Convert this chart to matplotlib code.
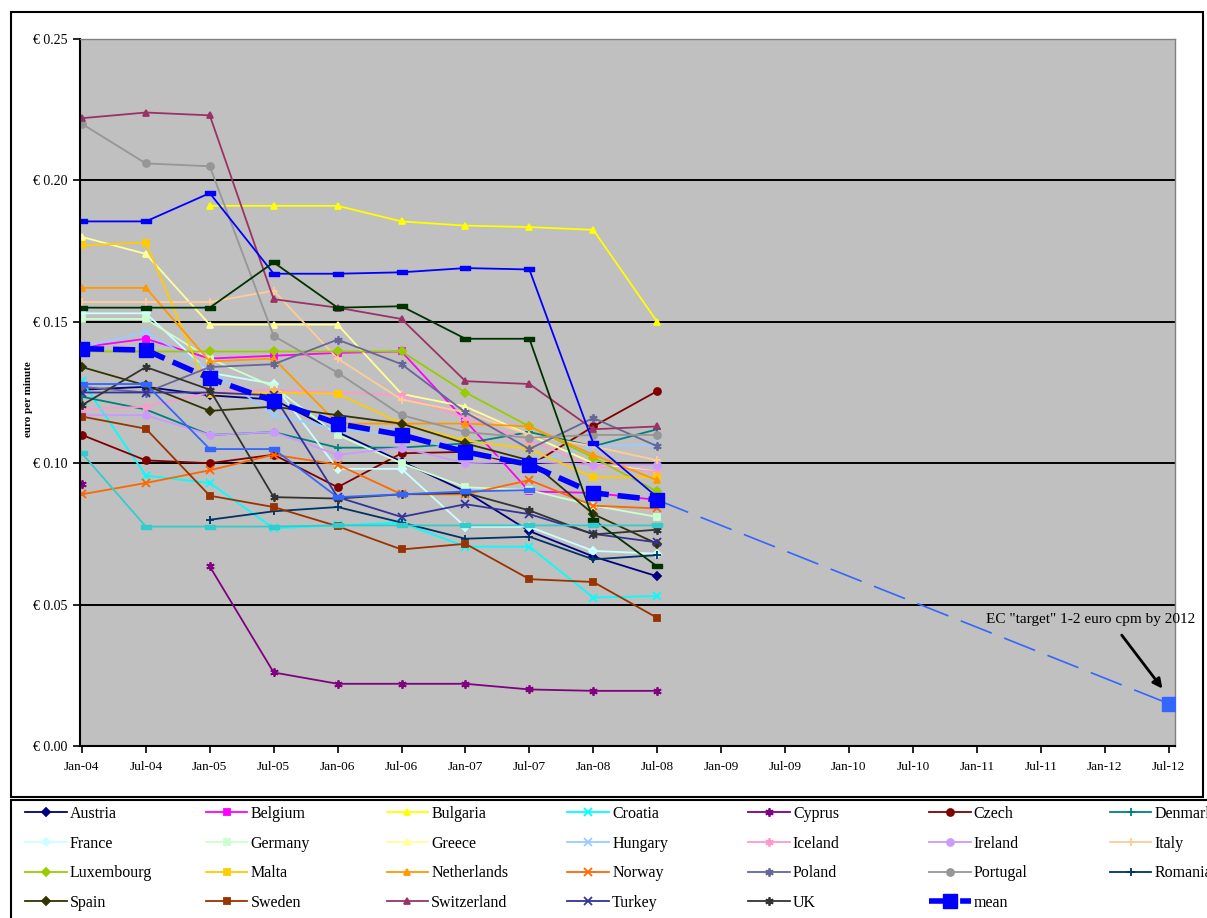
import numpy as np
import matplotlib.pyplot as plt
from matplotlib.patches import Rectangle

nan = np.nan

periods = ["Jan-04", "Jul-04", "Jan-05", "Jul-05", "Jan-06", "Jul-06",
           "Jan-07", "Jul-07", "Jan-08", "Jul-08", "Jan-09", "Jul-09",
           "Jan-10", "Jul-10", "Jan-11", "Jul-11", "Jan-12", "Jul-12"]

# observed half-years Jan-04 .. Jul-08 (euro per minute)
austria = [0.126, 0.127, 0.124, 0.1225, 0.111, 0.1006, 0.090, 0.076, 0.067, 0.060]
belgium = [0.141, 0.144, 0.137, 0.138, 0.139, 0.1395, 0.115, 0.090, 0.0895, 0.087]
bulgaria = [nan, nan, 0.191, 0.191, 0.191, 0.1855, 0.184, 0.1835, 0.1825, 0.150]
croatia = [0.129, 0.0956, 0.093, 0.077, 0.078, 0.079, 0.0705, 0.0705, 0.0525, 0.053]
cyprus = [0.0925, nan, 0.0635, 0.026, 0.022, 0.022, 0.022, 0.020, 0.0195, 0.0195]
czech = [0.110, 0.101, 0.100, 0.103, 0.0915, 0.1035, 0.104, 0.099, 0.113, 0.1255]
denmark = [0.1235, 0.119, 0.110, 0.111, 0.1055, 0.1055, 0.107, 0.111, 0.106, 0.112]
france = [0.153, 0.153, 0.132, 0.128, 0.098, 0.098, 0.0775, 0.0775, 0.069, 0.068]
germany = [0.151, 0.151, 0.137, 0.127, 0.110, 0.100, 0.0915, 0.0905, 0.085, 0.081]
greece = [0.180, 0.174, 0.149, 0.149, 0.149, 0.1245, 0.120, 0.110, 0.100, 0.097]
hungary = [0.141, 0.1465, 0.133, 0.117, 0.112, 0.110, 0.104, 0.100, 0.106, 0.1065]
iceland = [0.119, 0.120, 0.125, 0.126, 0.125, 0.124, 0.116, 0.108, 0.099, 0.097]
ireland = [0.117, 0.117, 0.110, 0.111, 0.103, 0.1055, 0.100, 0.1005, 0.0995, 0.0995]
italy = [0.157, 0.157, 0.157, 0.161, 0.137, 0.1225, 0.118, 0.110, 0.106, 0.101]
luxembourg = [0.1395, 0.1395, 0.1395, 0.1395, 0.1395, 0.1395, 0.125, 0.113, 0.102, 0.090]
malta = [0.177, 0.178, 0.1245, 0.125, 0.1246, 0.114, 0.108, 0.105, 0.095, 0.095]
netherlands = [0.162, 0.162, 0.136, 0.137, 0.114, 0.114, 0.114, 0.113, 0.103, 0.094]
norway = [0.089, 0.093, 0.0975, 0.103, 0.0995, 0.089, 0.089, 0.094, 0.085, 0.084]
poland = [0.127, 0.125, 0.134, 0.135, 0.1437, 0.135, 0.118, 0.105, 0.116, 0.106]
portugal = [0.220, 0.206, 0.205, 0.145, 0.132, 0.117, 0.111, 0.109, 0.110, 0.110]
romania = [nan, nan, 0.080, 0.083, 0.0845, 0.079, 0.0733, 0.074, 0.066, 0.0675]
spain = [0.134, 0.1275, 0.1185, 0.120, 0.117, 0.114, 0.107, 0.101, 0.082, 0.0715]
sweden = [0.1165, 0.1122, 0.0885, 0.0845, 0.0777, 0.0695, 0.0715, 0.059, 0.058, 0.0453]
switzerland = [0.222, 0.224, 0.223, 0.158, 0.155, 0.151, 0.129, 0.128, 0.112, 0.113]
turkey = [0.125, 0.125, 0.125, 0.124, 0.088, 0.081, 0.0855, 0.082, 0.075, 0.072]
uk = [0.1205, 0.134, 0.126, 0.088, 0.0875, 0.089, 0.0895, 0.0833, 0.0748, 0.0765]
mean = [0.1405, 0.140, 0.130, 0.122, 0.114, 0.110, 0.104, 0.0995, 0.0895, 0.087]

# series drawn in the chart but missing from the (cropped) legend
extra_blue = [0.1855, 0.1855, 0.1955, 0.167, 0.167, 0.1675, 0.169, 0.1685, 0.107, 0.088]
extra_green = [0.155, 0.155, 0.155, 0.171, 0.155, 0.1555, 0.144, 0.144, 0.080, 0.0635]
extra_royal = [0.128, 0.128, 0.105, 0.105, 0.088, 0.089, 0.090, 0.0905, nan, nan]
extra_turq = [0.1035, 0.0776, 0.0776, 0.0776, 0.078, 0.078, 0.078, 0.078, 0.078, 0.078]

ec_target = 0.015  # Jul-12

W, H = 1207, 918
SERIF = "Liberation Serif"
ASTER = (6, 2, 0)
DASH = [(-1, -0.45), (1, -0.45), (1, 0.45), (-1, 0.45), (-1, -0.45)]

countries = [
    ("Austria", austria, "#000080", "D"),
    ("Belgium", belgium, "#FF00FF", "s"),
    ("Bulgaria", bulgaria, "#FFFF00", "^"),
    ("Croatia", croatia, "#00FFFF", "x"),
    ("Cyprus", cyprus, "#800080", ASTER),
    ("Czech", czech, "#800000", "o"),
    ("Denmark", denmark, "#008080", "+"),
    ("France", france, "#CCFFFF", "D"),
    ("Germany", germany, "#CCFFCC", "s"),
    ("Greece", greece, "#FFFF99", "^"),
    ("Hungary", hungary, "#99CCFF", "x"),
    ("Iceland", iceland, "#FF99CC", ASTER),
    ("Ireland", ireland, "#CC99FF", "o"),
    ("Italy", italy, "#FFCC99", "+"),
    ("Luxembourg", luxembourg, "#99CC00", "D"),
    ("Malta", malta, "#FFCC00", "s"),
    ("Netherlands", netherlands, "#FF9900", "^"),
    ("Norway", norway, "#FF6600", "x"),
    ("Poland", poland, "#666699", ASTER),
    ("Portugal", portugal, "#969696", "o"),
    ("Romania", romania, "#003366", "+"),
    ("Spain", spain, "#333300", "D"),
    ("Sweden", sweden, "#993300", "s"),
    ("Switzerland", switzerland, "#993366", "^"),
    ("Turkey", turkey, "#333399", "x"),
    ("UK", uk, "#333333", ASTER),
]
extras = [
    (extra_blue, "#0000FF"),
    (extra_green, "#003300"),
    (extra_royal, "#3366FF"),
    (extra_turq, "#33CCCC"),
]


def marker_size(marker):
    if marker in ("x", "+") or marker == ASTER:
        return 6
    if marker == "D":
        return 4
    return 5


fig = plt.figure(figsize=(W / 100, H / 100), dpi=100)
ax = fig.add_axes([80 / W, 1 - 746 / H, (1175 - 80) / W, (746 - 39) / H])
ax.set_facecolor("#C0C0C0")

x_obs = np.arange(len(mean))
handles = {}
for name, values, color, marker in countries:
    (line,) = ax.plot(x_obs, values, color=color, lw=1.3, marker=marker,
                      ms=marker_size(marker), mfc=color, mec=color, mew=1.3)
    handles[name] = line

for values, color in extras:
    ax.plot(x_obs, values, color=color, lw=1.3, marker=DASH, ms=7,
            mfc=color, mec=color)

(mean_line,) = ax.plot(x_obs, mean, color="#0000FF", lw=4,
                       linestyle=(0, (4, 1.6)), marker="s", ms=10,
                       mfc="#0000FF", mec="#0000FF", zorder=5)
handles["mean"] = mean_line

# extrapolation to the EC target
ax.plot([x_obs[-1], len(periods) - 1], [mean[-1], ec_target], color="#3366FF",
        lw=1.2, linestyle=(0, (20, 8)), zorder=4)
ax.plot([len(periods) - 1], [ec_target], color="#3366FF", marker="s", ms=10,
        linestyle="none", zorder=5)

ax.text(15.78, 0.0446, 'EC "target" 1-2 euro cpm by 2012', ha="center",
        va="center", fontsize=11, family=SERIF, clip_on=False)
ax.annotate("", xy=(16.93, 0.0195), xytext=(16.24, 0.0400),
            arrowprops=dict(arrowstyle="-|>", color="black", lw=2,
                            mutation_scale=14))

ax.set_xlim(-0.03, 17.1)
ax.set_ylim(0, 0.25)
ax.set_xticks(range(len(periods)))
ax.set_xticklabels(periods, family=SERIF, fontsize=9.5)
yt = np.arange(0, 0.2501, 0.05)
ax.set_yticks(yt)
ax.set_yticklabels([f"€ {v:.2f}" for v in yt], family=SERIF, fontsize=10)
ax.tick_params(direction="out", length=5, width=1.2, pad=4)
ax.tick_params(axis="x", pad=6)
ax.set_ylabel("euro per minute", family=SERIF, fontsize=8, fontweight="bold")
ax.yaxis.set_label_coords(-0.043, 0.49)
for v in yt[1:-1]:
    ax.axhline(v, color="black", lw=1.4, zorder=0.5)
for side in ("left", "bottom"):
    ax.spines[side].set_linewidth(1.5)
for side in ("top", "right"):
    ax.spines[side].set_color("#808080")
    ax.spines[side].set_linewidth(1)

# frames: chart area and legend box (legend runs off the right edge)
fig.patches.append(Rectangle((11 / W, 1 - 797 / H), (1203 - 11) / W,
                             (797 - 12) / H, transform=fig.transFigure,
                             fill=False, lw=1.5, ec="black"))
fig.patches.append(Rectangle((11 / W, -0.05), 1.1, 1.05 - 800 / H,
                             transform=fig.transFigure, fill=False,
                             lw=1.5, ec="black"))

# legend: Excel lays it out row by row, so build one legend per column
legend_names = [name for name, *_ in countries] + ["mean"]
ncol = 7
for c in range(ncol):
    names = legend_names[c::ncol]
    fig.legend([handles[n] for n in names], names, loc="upper left",
               bbox_to_anchor=((25 + c * 180.8) / W, 1 - 806 / H),
               frameon=False, prop={"family": SERIF, "size": 11.5},
               handlelength=2.6, handletextpad=0.2, borderpad=0,
               labelspacing=0.85, borderaxespad=0)

fig.savefig("out.png", dpi=100)
